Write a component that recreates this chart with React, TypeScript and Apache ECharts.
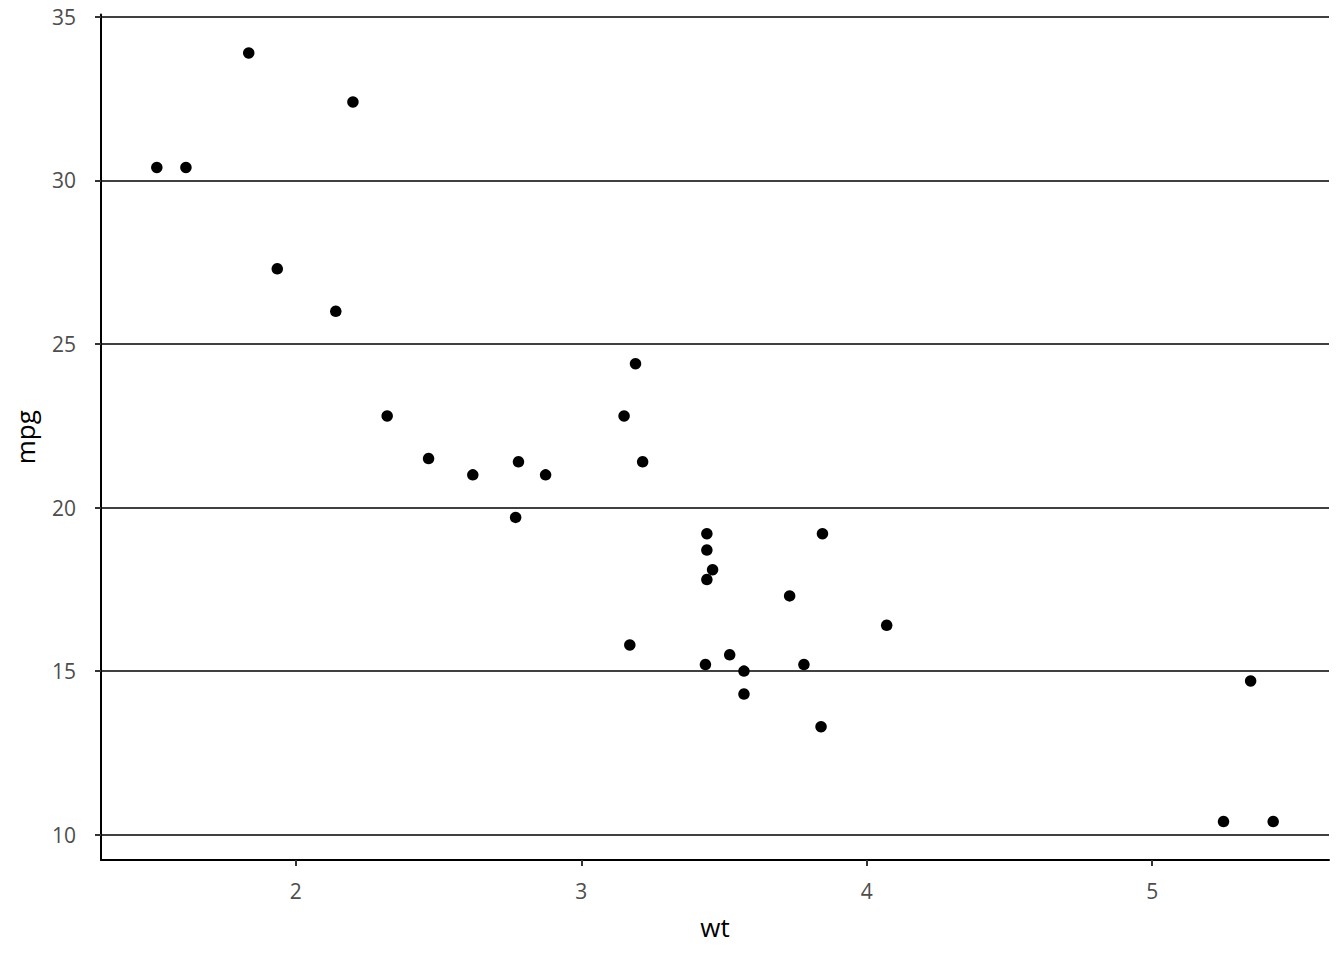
import React, { useEffect, useRef } from "react";
import * as echarts from "echarts";

const wt = [2.62, 2.875, 2.32, 3.215, 3.44, 3.46, 3.57, 3.19, 3.15, 3.44, 3.44, 4.07, 3.73, 3.78, 5.25, 5.424, 5.345, 2.2, 1.615, 1.835, 2.465, 3.52, 3.435, 3.84, 3.845, 1.935, 2.14, 1.513, 3.17, 2.77, 3.57, 2.78];
const mpg = [21.0, 21.0, 22.8, 21.4, 18.7, 18.1, 14.3, 24.4, 22.8, 19.2, 17.8, 16.4, 17.3, 15.2, 10.4, 10.4, 14.7, 32.4, 30.4, 33.9, 21.5, 15.5, 15.2, 13.3, 19.2, 27.3, 26.0, 30.4, 15.8, 19.7, 15.0, 21.4];
const xTicks = [2, 3, 4, 5];
const yTicks = [10, 15, 20, 25, 30, 35];

export default function App() {
  const ref = useRef<HTMLDivElement>(null);
  useEffect(() => {
    if (!ref.current) return;
    const chart = echarts.init(ref.current, null, { renderer: "svg" });
    const font = "Open Sans";
    const xr = [Math.min(...wt), Math.max(...wt)];
    const yr = [Math.min(...mpg), Math.max(...mpg)];
    const xpad = (xr[1] - xr[0]) * 0.05;
    const ypad = (yr[1] - yr[0]) * 0.05;
    const lab = { fontFamily: font, fontSize: 21, color: "#4d4d4d" };
    const title = { fontFamily: font, fontSize: 26, color: "#000" };
    chart.setOption({
      animation: false,
      backgroundColor: "#ffffff",
      grid: { left: 101, right: 15, top: 14.5, bottom: 100 },
      xAxis: {
        type: "value",
        min: xr[0] - xpad,
        max: xr[1] + xpad,
        name: "wt",
        nameLocation: "middle",
        nameGap: 54,
        nameTextStyle: title,
        axisLine: { show: true, onZero: false, lineStyle: { color: "#000", width: 2 } },
        axisTick: { show: true, length: 6, customValues: xTicks, lineStyle: { color: "#333", width: 2 } },
        axisLabel: { customValues: xTicks, ...lab, margin: 20 },
        splitLine: { show: false },
      },
      yAxis: {
        type: "value",
        min: yr[0] - ypad,
        max: yr[1] + ypad,
        name: "mpg",
        nameLocation: "middle",
        nameGap: 63,
        nameRotate: 90,
        nameTextStyle: title,
        axisLine: { show: true, onZero: false, lineStyle: { color: "#000", width: 2 } },
        axisTick: { show: true, length: 6, customValues: yTicks, lineStyle: { color: "#333", width: 2 } },
        axisLabel: { customValues: yTicks, ...lab, margin: 25 },
        splitLine: { show: false },
      },
      series: [
        {
          type: "scatter",
          data: wt.map((w, i) => [w, mpg[i]]),
          symbolSize: 11.5,
          itemStyle: { color: "#000", opacity: 1 },
          markLine: {
            silent: true,
            symbol: "none",
            label: { show: false },
            lineStyle: { color: "#000", width: 1.5, type: "solid", opacity: 1 },
            data: yTicks.map((v) => ({ yAxis: v })),
            z: 1,
          },
          z: 3,
        },
      ],
    });
    return () => chart.dispose();
  }, []);
  return <div ref={ref} style={{ width: 1344, height: 960, position: "absolute", left: 0, top: 0 }} />;
}
